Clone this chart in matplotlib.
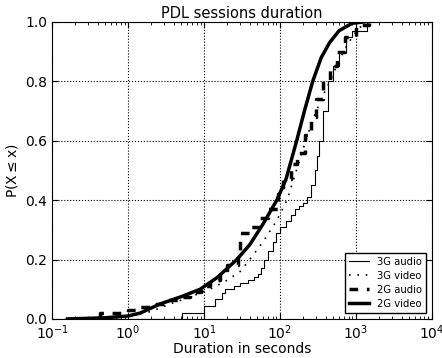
import numpy as np
import matplotlib
matplotlib.use('Agg')
import matplotlib.pyplot as plt

# durations (s) and CDF values
g3_audio_x = [0.15, 5.2, 10, 14, 17, 19, 25, 30, 38, 45, 52, 57, 62, 70, 80, 90, 100, 120, 140,
              160, 180, 200, 230, 260, 290, 310, 330, 370, 430, 500, 600, 750, 900, 1400]
g3_audio_y = [0.0, 0.02, 0.045, 0.067, 0.087, 0.10, 0.11, 0.12, 0.13, 0.14, 0.15, 0.17, 0.20, 0.23, 0.26,
              0.29, 0.31, 0.33, 0.35, 0.37, 0.38, 0.39, 0.41, 0.45, 0.50, 0.55, 0.60, 0.70, 0.80, 0.85,
              0.90, 0.95, 0.97, 1.0]

g3_video_x = [0.15, 0.5, 1.0, 2.0, 3.5, 6, 12, 20, 30, 40, 60, 90, 124, 160, 218, 280, 350, 455, 600,
              800, 1100, 1500]
g3_video_y = [0.0, 0.003, 0.01, 0.025, 0.05, 0.07, 0.10, 0.13, 0.16, 0.20, 0.26, 0.33, 0.40, 0.49, 0.60,
              0.68, 0.74, 0.80, 0.87, 0.93, 0.98, 1.0]

g2_audio_x = [0.15, 0.43, 1.0, 1.4, 2.2, 3.0, 4.5, 6.5, 9, 12, 16, 20, 28, 30, 42, 55, 70, 95, 110,
              140, 170, 214, 260, 300, 370, 450, 560, 720, 1000, 1500]
g2_audio_y = [0.0, 0.02, 0.03, 0.04, 0.05, 0.065, 0.075, 0.09, 0.11, 0.13, 0.15, 0.18, 0.22, 0.29, 0.31,
              0.34, 0.37, 0.42, 0.47, 0.52, 0.56, 0.62, 0.68, 0.74, 0.80, 0.85, 0.90, 0.95, 0.99, 1.0]

g2_video_x = [0.16, 0.5, 1.0, 1.45, 2.6, 5, 8.9, 15, 27, 40, 60, 91, 120, 166, 210, 270, 350, 450,
              600, 890, 1300]
g2_video_y = [0.0, 0.004, 0.01, 0.02, 0.05, 0.075, 0.10, 0.14, 0.20, 0.25, 0.32, 0.40, 0.47, 0.60, 0.70,
              0.80, 0.88, 0.93, 0.97, 0.995, 1.0]

fig = plt.figure(figsize=(4.42, 3.58), dpi=100)
ax = fig.add_axes([0.118, 0.109, 0.859, 0.830])

ax.plot(g3_audio_x, g3_audio_y, color='black', lw=0.8, drawstyle='steps-post', label='3G audio')
ax.plot(g3_video_x, g3_video_y, color='black', lw=1.2, ls=(0, (1, 4)), label='3G video')
ax.plot(g2_audio_x, g2_audio_y, color='black', lw=2.5, ls=(0, (2.5, 2.5)), drawstyle='steps-post', label='2G audio')
ax.plot(g2_video_x, g2_video_y, color='black', lw=2.5, label='2G video')

ax.set_xscale('log')
ax.set_xlim(0.1, 1e4)
ax.set_ylim(0, 1.0)
ax.set_yticks([0.0, 0.2, 0.4, 0.6, 0.8, 1.0])
ax.grid(True, which='major', color='black', ls=':', lw=0.8)
ax.tick_params(which='both', direction='in', top=True, right=True, labelsize=10)
ax.tick_params(which='major', length=4)
ax.tick_params(which='minor', length=2)
ax.set_title('PDL sessions duration', fontsize=10.5, pad=3)
ax.set_xlabel('Duration in seconds', fontsize=10, labelpad=0)
ax.set_ylabel(r'P(X$\leq$x)', fontsize=10)

leg = ax.legend(loc='lower right', fontsize=7.2, fancybox=False, framealpha=1, handlelength=2.0,
                borderaxespad=0.6, labelspacing=0.4)
leg.get_frame().set_edgecolor('black')

fig.savefig('out.png', dpi=100)
